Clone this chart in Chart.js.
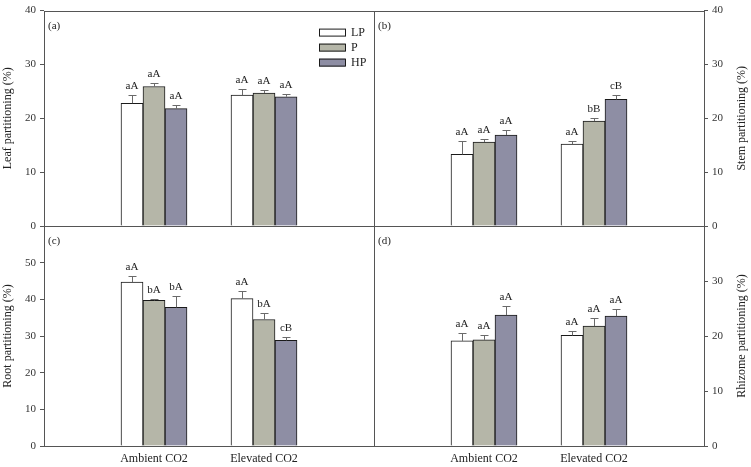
<!DOCTYPE html>
<html>
<head>
<meta charset="utf-8">
<script src="https://cdn.jsdelivr.net/npm/chart.js@4"></script>
<style>
  html, body { margin: 0; padding: 0; background: #fff; }
  #wrap { position: relative; width: 751px; height: 467px; }
  #wrap canvas { position: absolute; left: 0; top: 0; }
</style>
</head>
<body>
<div id="wrap">
  <canvas id="panelA" width="751" height="467"></canvas>
  <canvas id="panelB" width="751" height="467"></canvas>
  <canvas id="panelC" width="751" height="467"></canvas>
  <canvas id="panelD" width="751" height="467"></canvas>
</div>
<script>
// Kategori & perlakuan
const kategori = ['', 'Ambient CO2', 'Elevated CO2', ''];
const perlakuan = ['LP', 'P', 'HP'];
const warnaBar = ['#ffffff', '#b5b6a8', '#8e8ea4'];

// (a) Leaf partitioning: baris = LP, P, HP ; kolom = Ambient, Elevated
const leafMean = [[22.8, 24.3], [25.9, 24.7], [21.8, 24.0]];
const leafErr = [[1.5, 1.2], [0.6, 0.5], [0.6, 0.6]];
const leafHuruf = [['aA', 'aA'], ['aA', 'aA'], ['aA', 'aA']];

// (b) Stem partitioning
const stemMean = [[13.3, 15.2], [15.6, 19.5], [16.9, 23.5]];
const stemErr = [[2.4, 0.5], [0.6, 0.6], [1.0, 0.8]];
const stemHuruf = [['aA', 'aA'], ['aA', 'bB'], ['aA', 'cB']];

// (c) Root partitioning
const rootMean = [[44.7, 40.2], [39.7, 34.5], [37.8, 28.8]];
const rootErr = [[1.7, 2.0], [0.3, 1.8], [3.0, 0.9]];
const rootHuruf = [['aA', 'aA'], ['bA', 'bA'], ['bA', 'cB']];

// (d) Rhizome partitioning
const rhizMean = [[19.1, 20.1], [19.3, 21.8], [23.8, 23.6]];
const rhizErr = [[1.4, 0.8], [0.9, 1.4], [1.7, 1.3]];
const rhizHuruf = [['aA', 'aA'], ['aA', 'aA'], ['aA', 'aA']];

// Batas sumbu y
const yMaxPanel = [40, 40, 60, 40];
const yStep = 10;

const SERIF = '"Liberation Serif", "Times New Roman", serif';
const warnaGaris = '#555555';
const warnaTeks = '#222222';

function pasang(arr) {
    return [null, ...arr, null];
}

// Plugin dekorasi: bingkai, error bar, huruf, label panel, legenda
function buatDekor(cfg) {
    return {
        id: 'dekor',
        afterDatasetsDraw(chart) {
            const ctx = chart.ctx;
            const area = chart.chartArea;
            const y = chart.scales.y;
            ctx.save();

            // error bar + huruf signifikansi
            chart.data.datasets.forEach((ds, i) => {
                const meta = chart.getDatasetMeta(i);
                meta.data.forEach((bar, j) => {
                    const v = ds.data[j];
                    if (v === null) return;
                    const yTop = y.getPixelForValue(v + ds.err[j]);
                    const x = Math.round(bar.x) + 0.5;
                    ctx.strokeStyle = '#6a6a6a';
                    ctx.lineWidth = 1;
                    ctx.beginPath();
                    ctx.moveTo(x, bar.y);
                    ctx.lineTo(x, Math.round(yTop) + 0.5);
                    ctx.moveTo(x - 4, Math.round(yTop) + 0.5);
                    ctx.lineTo(x + 4, Math.round(yTop) + 0.5);
                    ctx.stroke();

                    ctx.fillStyle = warnaTeks;
                    ctx.font = '11px ' + SERIF;
                    ctx.textAlign = 'center';
                    ctx.textBaseline = 'alphabetic';
                    ctx.fillText(ds.huruf[j], bar.x, yTop - 6);
                });
            });

            // bingkai panel
            ctx.strokeStyle = warnaGaris;
            ctx.lineWidth = 1;
            const l = Math.round(area.left) + 0.5, t = Math.round(area.top) + 0.5;
            const r = Math.round(area.right) + 0.5, b = Math.round(area.bottom) + 0.5;
            ctx.strokeRect(l, t, r - l, b - t);

            // label panel (a), (b) ...
            ctx.fillStyle = warnaTeks;
            ctx.font = '11px ' + SERIF;
            ctx.textAlign = 'left';
            ctx.textBaseline = 'alphabetic';
            ctx.fillText(cfg.label, area.left + 4, area.top + 18);

            // legenda hanya di panel (a)
            if (cfg.legenda) {
                chart.data.datasets.forEach((ds, i) => {
                    const bx = area.left + 275;
                    const by = area.top + 18 + i * 15;
                    ctx.fillStyle = ds.backgroundColor;
                    ctx.fillRect(bx, by, 26, 8);
                    ctx.strokeStyle = '#1a1a1a';
                    ctx.strokeRect(bx + 0.5, by + 0.5, 26, 7);
                    ctx.fillStyle = warnaTeks;
                    ctx.font = '12px ' + SERIF;
                    ctx.textBaseline = 'middle';
                    ctx.fillText(ds.label, bx + 32, by + 4.5);
                });
            }

            // judul sumbu kanan (dibaca dari bawah ke atas)
            if (cfg.judulKanan) {
                ctx.translate(742, (area.top + area.bottom) / 2);
                ctx.rotate(-Math.PI / 2);
                ctx.fillStyle = warnaTeks;
                ctx.font = '12px ' + SERIF;
                ctx.textAlign = 'center';
                ctx.textBaseline = 'middle';
                ctx.fillText(cfg.judulKanan, 0, 0);
            }
            ctx.restore();
        }
    };
}

function buatPanel(id, cfg) {
    const datasets = perlakuan.map((nama, i) => ({
        label: nama,
        data: pasang(cfg.mean[i]),
        err: pasang(cfg.err[i]),
        huruf: pasang(cfg.huruf[i]),
        backgroundColor: warnaBar[i],
        borderColor: '#1a1a1a',
        borderWidth: 1,
        barThickness: 22,
    }));

    const kiri = cfg.posisiY === 'left';

    return new Chart(document.getElementById(id), {
        type: 'bar',
        data: { labels: kategori, datasets },
        options: {
            responsive: false,
            animation: false,
            events: [],
            layout: { padding: cfg.padding },
            plugins: {
                legend: { display: false },
                tooltip: { enabled: false },
            },
            scales: {
                x: {
                    display: cfg.tampilX,
                    offset: false,
                    grid: { display: false, drawTicks: false },
                    border: { display: false },
                    ticks: {
                        autoSkip: false,
                        maxRotation: 0,
                        padding: 6,
                        color: warnaTeks,
                        font: { family: SERIF, size: 12 },
                    },
                    afterFit: (s) => { s.height = cfg.tampilX ? 21 : 0; },
                },
                y: {
                    position: cfg.posisiY,
                    min: 0,
                    max: cfg.maxY,
                    ticks: {
                        stepSize: yStep,
                        padding: 4,
                        color: '#333333',
                        font: { family: SERIF, size: 11 },
                        callback: (v) => (cfg.sembunyiAtas && v === cfg.maxY ? '' : v),
                    },
                    grid: {
                        drawOnChartArea: false,
                        drawTicks: true,
                        tickLength: 4,
                        color: warnaGaris,
                    },
                    border: { display: false },
                    title: {
                        display: kiri,
                        text: cfg.judul,
                        color: warnaTeks,
                        font: { family: SERIF, size: 12 },
                        padding: { top: 1, bottom: 0 },
                    },
                    afterFit: (s) => { s.width = kiri ? 44 : 47; },
                },
            },
        },
        plugins: [buatDekor({
            label: cfg.label,
            legenda: cfg.legenda,
            judulKanan: kiri ? null : cfg.judul,
        })],
    });
}

// ðŸ“Š Empat panel
buatPanel('panelA', {
    label: '(a)', judul: 'Leaf partitioning (%)', posisiY: 'left', maxY: yMaxPanel[0],
    mean: leafMean, err: leafErr, huruf: leafHuruf, tampilX: false, legenda: true,
    padding: { left: 0, top: 6, right: 377, bottom: 241 },
});
buatPanel('panelB', {
    label: '(b)', judul: 'Stem partitioning (%)', posisiY: 'right', maxY: yMaxPanel[1],
    mean: stemMean, err: stemErr, huruf: stemHuruf, tampilX: false,
    padding: { left: 374, top: 6, right: 0, bottom: 241 },
});
buatPanel('panelC', {
    label: '(c)', judul: 'Root partitioning (%)', posisiY: 'left', maxY: yMaxPanel[2],
    mean: rootMean, err: rootErr, huruf: rootHuruf, tampilX: true, sembunyiAtas: true,
    padding: { left: 0, top: 226, right: 377, bottom: 0 },
});
buatPanel('panelD', {
    label: '(d)', judul: 'Rhizome partitioning (%)', posisiY: 'right', maxY: yMaxPanel[3],
    mean: rhizMean, err: rhizErr, huruf: rhizHuruf, tampilX: true, sembunyiAtas: true,
    padding: { left: 374, top: 226, right: 0, bottom: 0 },
});
</script>
</body>
</html>
